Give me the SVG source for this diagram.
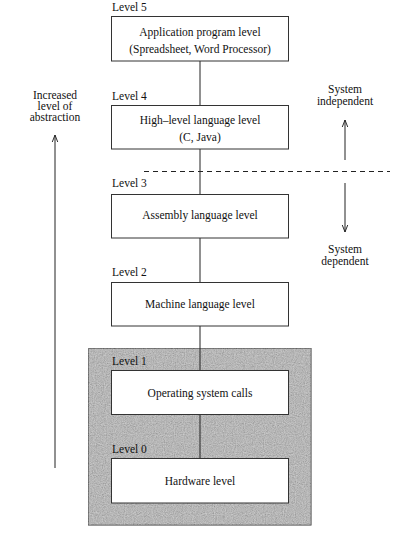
<svg xmlns="http://www.w3.org/2000/svg" width="404" height="538" viewBox="0 0 404 538">
<style>
text{font-family:"Liberation Serif","Times New Roman",serif;font-size:11.5px;fill:#111}
.c{text-anchor:middle}
.box{fill:#fff;stroke:#333;stroke-width:1}
.ln{stroke:#222;stroke-width:1;fill:none}
</style>
<defs>
<marker id="ah" viewBox="0 0 10 10" refX="9" refY="5" markerWidth="8" markerHeight="8" markerUnits="userSpaceOnUse" orient="auto">
<path d="M0,1.5 L9,5 L0,8.5" fill="none" stroke="#222" stroke-width="1.2"/>
</marker>
<filter id="noise" x="0" y="0" width="100%" height="100%">
<feTurbulence type="fractalNoise" baseFrequency="0.9" numOctaves="2" seed="3"/>
<feColorMatrix type="saturate" values="0"/>
<feComponentTransfer><feFuncA type="linear" slope="0" intercept="0.5"/></feComponentTransfer>
</filter>
</defs>
<rect width="404" height="538" fill="#fff"/>
<g id="os-region">
<rect x="88.5" y="348.5" width="222.5" height="176.5" fill="#b0b0b0" stroke="#333"/>
<rect x="88.5" y="348.5" width="222.5" height="176.5" filter="url(#noise)"/>
</g>
<g id="connectors">
<line class="ln" x1="200" y1="61" x2="200" y2="458"/>
<line class="ln" x1="144" y1="171.5" x2="390" y2="171.5" stroke-dasharray="5,4"/>
<line class="ln" x1="55" y1="468" x2="55" y2="135" marker-end="url(#ah)"/>
<line class="ln" x1="345" y1="160" x2="345" y2="120" marker-end="url(#ah)"/>
<line class="ln" x1="345" y1="183" x2="345" y2="232" marker-end="url(#ah)"/>
</g>
<g id="level5">
<text x="112" y="11">Level 5</text>
<rect class="box" x="111.5" y="16.5" width="177" height="44.5"/>
<text class="c" x="200" y="36">Application program level</text>
<text class="c" x="200" y="53">(Spreadsheet, Word Processor)</text>
</g>
<g id="level4">
<text x="112" y="100">Level 4</text>
<rect class="box" x="111.5" y="105.5" width="177" height="43.5"/>
<text class="c" x="200" y="124">High–level language level</text>
<text class="c" x="200" y="141">(C, Java)</text>
</g>
<g id="level3">
<text x="112" y="187">Level 3</text>
<rect class="box" x="111.5" y="194.5" width="177" height="43.5"/>
<text class="c" x="200" y="219">Assembly language level</text>
</g>
<g id="level2">
<text x="112" y="276">Level 2</text>
<rect class="box" x="111.5" y="282.5" width="177" height="43.5"/>
<text class="c" x="200" y="308">Machine language level</text>
</g>
<g id="level1">
<text x="112" y="365">Level 1</text>
<rect class="box" x="111.5" y="370.5" width="177" height="44"/>
<text class="c" x="200" y="397">Operating system calls</text>
</g>
<g id="level0">
<text x="112" y="453">Level 0</text>
<rect class="box" x="111.5" y="458.5" width="177" height="44.5"/>
<text class="c" x="200" y="485">Hardware level</text>
</g>
<g id="labels">
<text class="c" x="55" y="99">Increased</text>
<text class="c" x="55" y="110">level of</text>
<text class="c" x="55" y="121">abstraction</text>
<text class="c" x="345" y="93">System</text>
<text class="c" x="345" y="105">independent</text>
<text class="c" x="345" y="253">System</text>
<text class="c" x="345" y="265">dependent</text>
</g>
</svg>
